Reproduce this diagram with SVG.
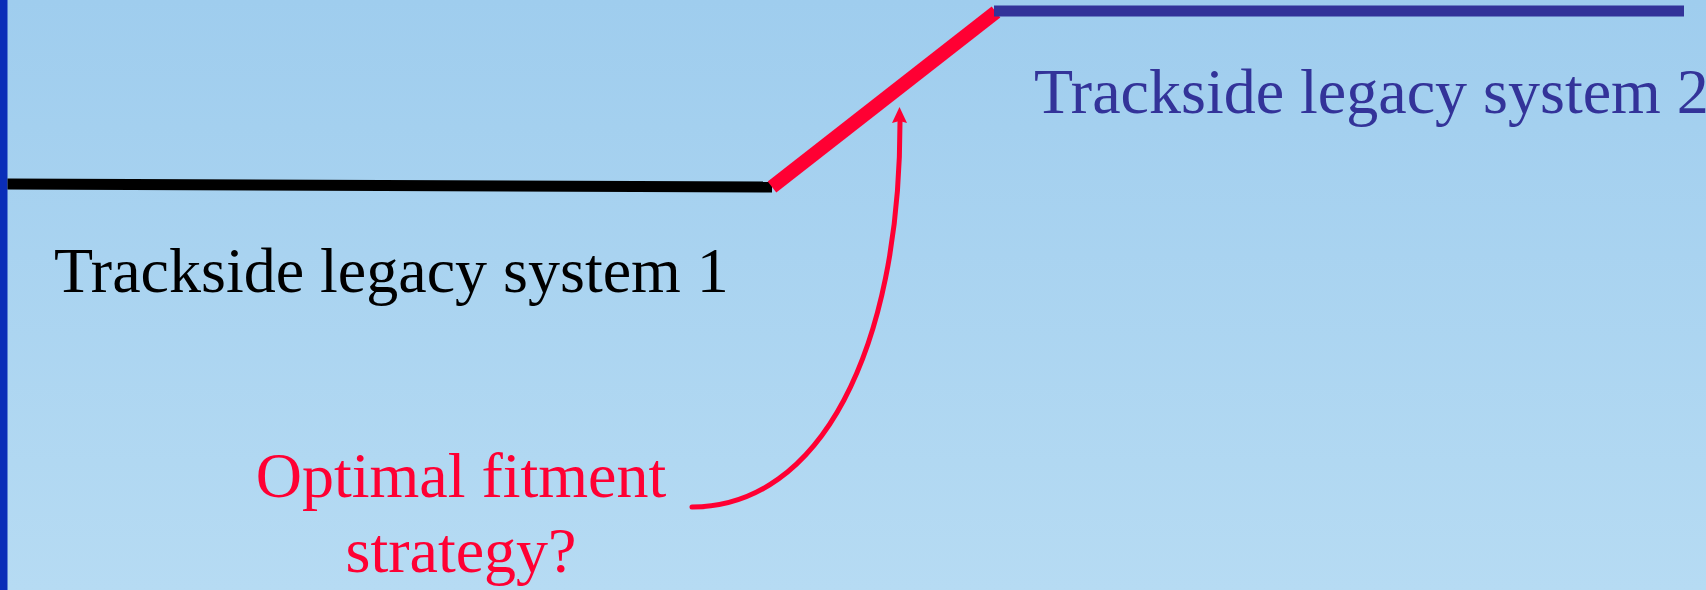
<svg xmlns="http://www.w3.org/2000/svg" width="1706" height="590" viewBox="0 0 1706 590">
<style>
.t{font-family:"Liberation Serif","Times New Roman",serif;font-size:64px}
.red{fill:#ff0033}
</style>
<defs>
<linearGradient id="bg" x1="0" y1="0" x2="0" y2="1">
<stop offset="0" stop-color="#9fcdee"/>
<stop offset="1" stop-color="#b6dbf3"/>
</linearGradient>
</defs>
<rect width="1706" height="590" fill="url(#bg)"/>
<rect x="0" y="0" width="7.5" height="590" fill="#0a2db8"/>
<g id="connectors">
<line x1="7.5" y1="184" x2="772" y2="187" stroke="#000" stroke-width="11"/>
<line x1="772" y1="187" x2="996" y2="12" stroke="#ff0033" stroke-width="14"/>
<line x1="994" y1="11" x2="1684" y2="11" stroke="#333399" stroke-width="11"/>
<path d="M692,507 C820,507 900,350 900,122" fill="none" stroke="#ff0033" stroke-width="5" stroke-linecap="round"/>
<path d="M899.5,107 L907,123 L899.5,121 L892,123 Z" fill="#ff0033"/>
</g>
<g id="system1"><text class="t" x="54" y="292" fill="#000">Trackside legacy system 1</text></g>
<g id="system2"><text class="t" x="1034" y="113" fill="#333399">Trackside legacy system 2</text></g>
<g id="question"><text class="t red" text-anchor="middle"><tspan x="461" y="497">Optimal fitment</tspan><tspan x="461" y="572">strategy?</tspan></text></g>
</svg>
